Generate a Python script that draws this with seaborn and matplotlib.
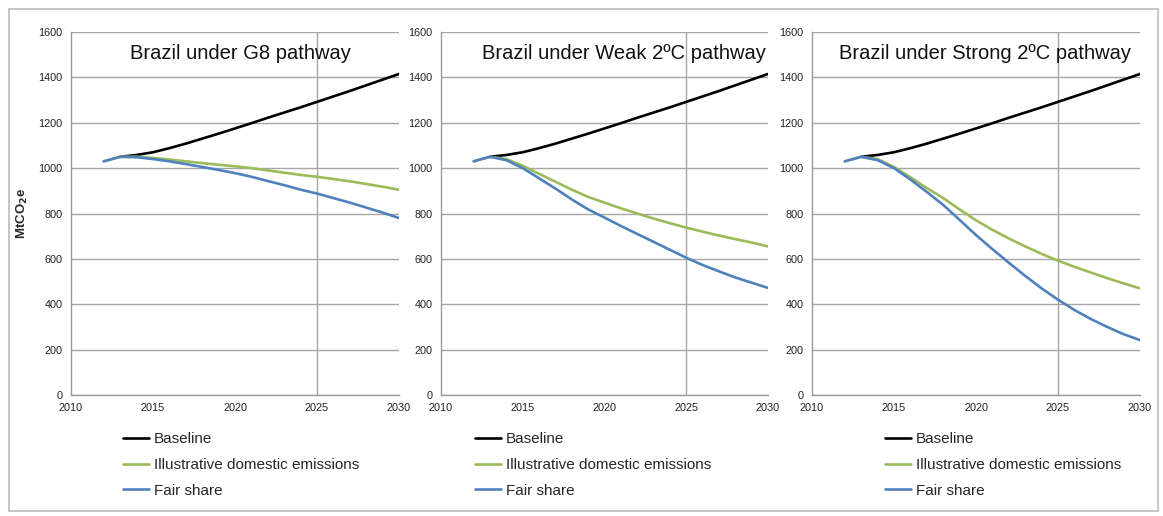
import pandas as pd
import matplotlib.pyplot as plt
import matplotlib.patches as patches
import seaborn as sns

# ---- data ----
years = list(range(2012, 2031))

baseline = [None, 1050, 1058, 1070, 1088, 1108, 1130, 1152, 1175, 1198,
            1222, 1245, 1268, 1292, 1316, 1340, 1365, 1390, 1415]

g8_domestic = [1030, 1050, 1050, 1045, 1038, 1030, 1022, 1015, 1008, 1000,
               990, 980, 970, 962, 952, 942, 930, 918, 905]
g8_fair = [1030, 1050, 1048, 1040, 1030, 1018, 1005, 992, 978, 962,
           943, 925, 905, 888, 868, 848, 826, 804, 780]

weak_domestic = [1030, 1050, 1040, 1010, 975, 940, 905, 873, 848, 823,
                 800, 778, 757, 738, 720, 703, 687, 672, 655]
weak_fair = [1030, 1050, 1035, 1000, 955, 910, 862, 818, 782, 745,
             710, 675, 640, 605, 573, 545, 518, 495, 472]

strong_domestic = [1030, 1050, 1040, 1005, 960, 912, 868, 818, 770, 728,
                   690, 655, 622, 592, 565, 540, 515, 492, 470]
strong_fair = [1030, 1050, 1035, 1000, 950, 895, 838, 772, 705, 643,
               583, 525, 470, 420, 375, 335, 300, 268, 242]

titles = ["Brazil under G8 pathway",
          "Brazil under Weak 2ºC pathway",
          "Brazil under Strong 2ºC pathway"]
series_names = ["Baseline", "Illustrative domestic emissions", "Fair share"]
x_ticks = [2010, 2015, 2020, 2025, 2030]
y_ticks = [0, 200, 400, 600, 800, 1000, 1200, 1400, 1600]
marker_year = 2025

colors = {"Baseline": "#000000",
          "Illustrative domestic emissions": "#9BBB59",
          "Fair share": "#4F81BD"}


def make_frame(domestic, fair):
    parts = []
    for name, vals in zip(series_names, [baseline, domestic, fair]):
        parts.append(pd.DataFrame({"year": years, "value": vals, "series": name}))
    df = pd.concat(parts, ignore_index=True)
    return df.dropna()


panels = [make_frame(g8_domestic, g8_fair),
          make_frame(weak_domestic, weak_fair),
          make_frame(strong_domestic, strong_fair)]

sns.set_style("white")
plt.rcParams["font.family"] = ["Liberation Sans", "DejaVu Sans"]

W, H = 1163, 516
fig = plt.figure(figsize=(W / 100, H / 100), dpi=100)

# axes boxes in pixels: left, right
ax_px = [(71, 399), (441, 768), (812, 1140)]
top_px, bottom_px = 32, 395
title_x = [0.518, 0.56, 0.527]
legend_x = [123, 475, 885]

for i, df in enumerate(panels):
    l, r = ax_px[i]
    ax = fig.add_axes([l / W, (H - bottom_px) / H, (r - l) / W, (bottom_px - top_px) / H])
    sns.lineplot(data=df, x="year", y="value", hue="series", hue_order=series_names,
                 palette=colors, linewidth=1.9, ax=ax)
    ax.set_xlim(2010, 2030)
    ax.set_ylim(0, 1600)
    ax.set_xticks(x_ticks)
    ax.set_yticks(y_ticks)
    ax.grid(axis="y", color="#A6A6A6", linewidth=1)
    ax.axvline(marker_year, color="#A6A6A6", linewidth=1, zorder=0)
    for s in ["top", "right"]:
        ax.spines[s].set_visible(False)
    for s in ["left", "bottom"]:
        ax.spines[s].set_color("#999999")
        ax.spines[s].set_linewidth(1)
    ax.tick_params(axis="both", direction="out", length=4, width=1, color="#999999",
                   labelsize=7.8, labelcolor="#222222", pad=2)
    ax.set_xlabel("")
    ax.set_ylabel("")
    ax.text(title_x[i], 0.94, titles[i], transform=ax.transAxes, ha="center",
            va="center", fontsize=14.5, color="#111111")
    handles, labels = ax.get_legend_handles_labels()
    ax.legend(handles, labels, loc="upper left",
              bbox_to_anchor=(legend_x[i] / W, (H - 432) / H),
              bbox_transform=fig.transFigure, frameon=False, fontsize=11,
              borderpad=0, borderaxespad=0, handlelength=1.7, handletextpad=0.3,
              labelspacing=0.78)
    if i == 0:
        ax.set_ylabel(r"MtCO$_\mathbf{2}$e", fontsize=9.5, fontweight="bold", labelpad=6)

# thin grey frame around the whole picture
fig.patches.append(patches.Rectangle((9 / W, 5 / H), (1158 - 9) / W, (507 - 5) / H,
                                     transform=fig.transFigure, fill=False,
                                     edgecolor="#BBBBBB", linewidth=1.2))

fig.savefig("out.png", dpi=100)
